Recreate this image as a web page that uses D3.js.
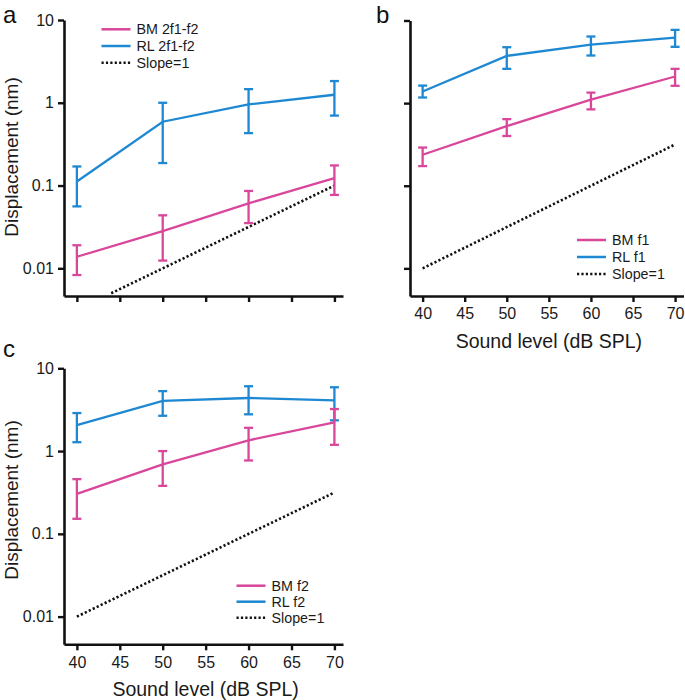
<!DOCTYPE html>
<html><head><meta charset="utf-8">
<script src="https://cdn.jsdelivr.net/npm/d3@7"></script>
<style>
html,body{margin:0;padding:0;background:#fff;}
svg{display:block;font-family:"Liberation Sans",Arial,Helvetica,sans-serif;}
</style></head>
<body>
<svg id="chart" width="685" height="700"></svg>
<script>
// ---------- data ----------
const levels = [40, 50, 60, 70];
const xTicks = [40, 45, 50, 55, 60, 65, 70];
const xDomain = [38.5, 71];
const yTicks = [0.01, 0.1, 1, 10];
const yTickLabels = ["0.01", "0.1", "1", "10"];
const yDomain = [0.00463, 10];
const xTitle = "Sound level (dB SPL)";
const yTitle = "Displacement (nm)";

// panel a: 2f1-f2
const bmDP = [0.0138, 0.0282, 0.061, 0.123];
const bmDPLo = [0.0083, 0.0124, 0.0352, 0.077];
const bmDPHi = [0.019, 0.0437, 0.086, 0.175];
const rlDP = [0.112, 0.59, 0.955, 1.25];
const rlDPLo = [0.056, 0.187, 0.43, 0.70];
const rlDPHi = [0.17, 1.0, 1.46, 1.83];
const slopeALevels = [44, 70];
const slopeAValues = [0.005, 0.1];

// panel b: f1
const bmF1 = [0.237, 0.527, 1.1, 2.1];
const bmF1Lo = [0.173, 0.40, 0.84, 1.62];
const bmF1Hi = [0.29, 0.64, 1.34, 2.6];
const rlF1 = [1.38, 3.73, 5.1, 6.2];
const rlF1Lo = [1.17, 2.6, 3.77, 4.8];
const rlF1Hi = [1.63, 4.75, 6.4, 7.7];
const slopeBLevels = [40, 70];
const slopeBValues = [0.01, 0.316];

// panel c: f2
const bmF2 = [0.304, 0.69, 1.35, 2.22];
const bmF2Lo = [0.152, 0.38, 0.77, 1.19];
const bmF2Hi = [0.458, 1.0, 1.91, 3.22];
const rlF2 = [2.06, 4.03, 4.38, 4.1];
const rlF2Lo = [1.28, 2.67, 2.78, 2.35];
const rlF2Hi = [2.88, 5.3, 6.07, 5.9];
const slopeCLevels = [40, 70];
const slopeCValues = [0.01, 0.316];

const legendA = ["BM 2f1-f2", "RL 2f1-f2", "Slope=1"];
const legendB = ["BM f1", "RL f1", "Slope=1"];
const legendC = ["BM f2", "RL f2", "Slope=1"];

// ---------- style ----------
const PINK = "#d9479b";
const BLUE = "#1e88d2";

const svg = d3.select("#chart");

function panel(cfg) {
  const x = d3.scaleLinear().domain(xDomain).range([cfg.left, cfg.right]);
  const y = d3.scaleLog().domain(yDomain).range([cfg.bottom, cfg.top]);
  const g = svg.append("g");

  // slope line
  const sl = cfg.slopeL.map((l, i) => [l, cfg.slopeV[i]]);
  g.append("path")
    .attr("d", d3.line().x(d => x(d[0])).y(d => y(d[1]))(sl))
    .attr("fill", "none").attr("stroke", "#111").attr("stroke-width", 2.6)
    .attr("stroke-dasharray", "2.2,2.2");

  function series(vals, lo, hi, color) {
    const pts = levels.map((l, i) => ({l, v: vals[i], lo: lo[i], hi: hi[i]}));
    g.append("path")
      .attr("d", d3.line().x(d => x(d.l)).y(d => y(d.v))(pts))
      .attr("fill", "none").attr("stroke", color).attr("stroke-width", 2.3);
    const eb = g.append("g").attr("stroke", color).attr("stroke-width", 2.3).attr("fill", "none");
    pts.forEach(d => {
      const cx = x(d.l);
      eb.append("line").attr("x1", cx).attr("x2", cx).attr("y1", y(d.lo)).attr("y2", y(d.hi));
      eb.append("line").attr("x1", cx - 4.5).attr("x2", cx + 4.5).attr("y1", y(d.lo)).attr("y2", y(d.lo));
      eb.append("line").attr("x1", cx - 4.5).attr("x2", cx + 4.5).attr("y1", y(d.hi)).attr("y2", y(d.hi));
    });
  }
  series(cfg.rl, cfg.rlLo, cfg.rlHi, BLUE);
  series(cfg.bm, cfg.bmLo, cfg.bmHi, PINK);

  // axes
  const ya = d3.axisLeft(y).tickValues(yTicks).tickSize(6).tickSizeOuter(0).tickPadding(4)
    .tickFormat((d, i) => cfg.yLabels ? yTickLabels[i] : "");
  const yg = g.append("g").attr("transform", `translate(${cfg.left},0)`).call(ya);
  const xa = d3.axisBottom(x).tickValues(xTicks).tickSize(6).tickSizeOuter(0).tickPadding(6)
    .tickFormat(d => cfg.xLabels ? d : "");
  const xg = g.append("g").attr("transform", `translate(0,${cfg.bottom})`).call(xa);
  [yg, xg].forEach(a => {
    a.select(".domain").attr("stroke", "#111").attr("stroke-width", 2.6);
    a.selectAll(".tick line").attr("stroke", "#111").attr("stroke-width", 2.4);
    a.selectAll(".tick text").attr("fill", "#1a1a1a").style("font-size", "16px")
      .style("font-family", '"Liberation Sans",Arial,sans-serif');
  });

  if (cfg.yLabels) {
    g.append("text").attr("transform", `translate(${cfg.left - 46.5},${cfg.yTitleY}) rotate(-90)`)
      .attr("text-anchor", "middle").attr("fill", "#1a1a1a").style("font-size", "19px").text(yTitle);
  }
  if (cfg.xLabels) {
    g.append("text").attr("x", x(55)).attr("y", cfg.bottom + 52)
      .attr("text-anchor", "middle").attr("fill", "#1a1a1a").style("font-size", "19.5px").text(xTitle);
  }

  // panel letter
  g.append("text").attr("x", cfg.letterX).attr("y", cfg.letterY)
    .attr("fill", "#111").style("font-size", "24px").text(cfg.letter);

  // legend
  const lg = g.append("g");
  const colors = [PINK, BLUE, "#111"];
  cfg.legend.forEach((t, i) => {
    const ly = cfg.legY + i * cfg.legStep;
    const ln = lg.append("line").attr("x1", cfg.legX).attr("x2", cfg.legX + 29)
      .attr("y1", ly).attr("y2", ly).attr("stroke", colors[i]).attr("stroke-width", 2.5);
    if (i === 2) ln.attr("stroke-dasharray", "2.2,2.2");
    lg.append("text").attr("x", cfg.legX + 35).attr("y", ly + 5)
      .attr("fill", "#1a1a1a").style("font-size", "14.3px").text(t);
  });
}

panel({left: 64, right: 343, top: 20, bottom: 296, yLabels: true, xLabels: false,
  bm: bmDP, bmLo: bmDPLo, bmHi: bmDPHi, rl: rlDP, rlLo: rlDPLo, rlHi: rlDPHi,
  slopeL: slopeALevels, slopeV: slopeAValues, letter: "a", letterX: 3, letterY: 23,
  yTitleY: 157, legend: legendA, legX: 101.5, legY: 29.3, legStep: 16.7});

panel({left: 410, right: 683.5, top: 20.5, bottom: 296, yLabels: false, xLabels: true,
  bm: bmF1, bmLo: bmF1Lo, bmHi: bmF1Hi, rl: rlF1, rlLo: rlF1Lo, rlHi: rlF1Hi,
  slopeL: slopeBLevels, slopeV: slopeBValues, letter: "b", letterX: 376, letterY: 23,
  legend: legendB, legX: 577, legY: 240, legStep: 17});

panel({left: 64, right: 343, top: 368.3, bottom: 644.3, yLabels: true, xLabels: true,
  bm: bmF2, bmLo: bmF2Lo, bmHi: bmF2Hi, rl: rlF2, rlLo: rlF2Lo, rlHi: rlF2Hi,
  slopeL: slopeCLevels, slopeV: slopeCValues, letter: "c", letterX: 3, letterY: 357,
  yTitleY: 500, legend: legendC, legX: 236.5, legY: 585.7, legStep: 16});
</script>
</body></html>
